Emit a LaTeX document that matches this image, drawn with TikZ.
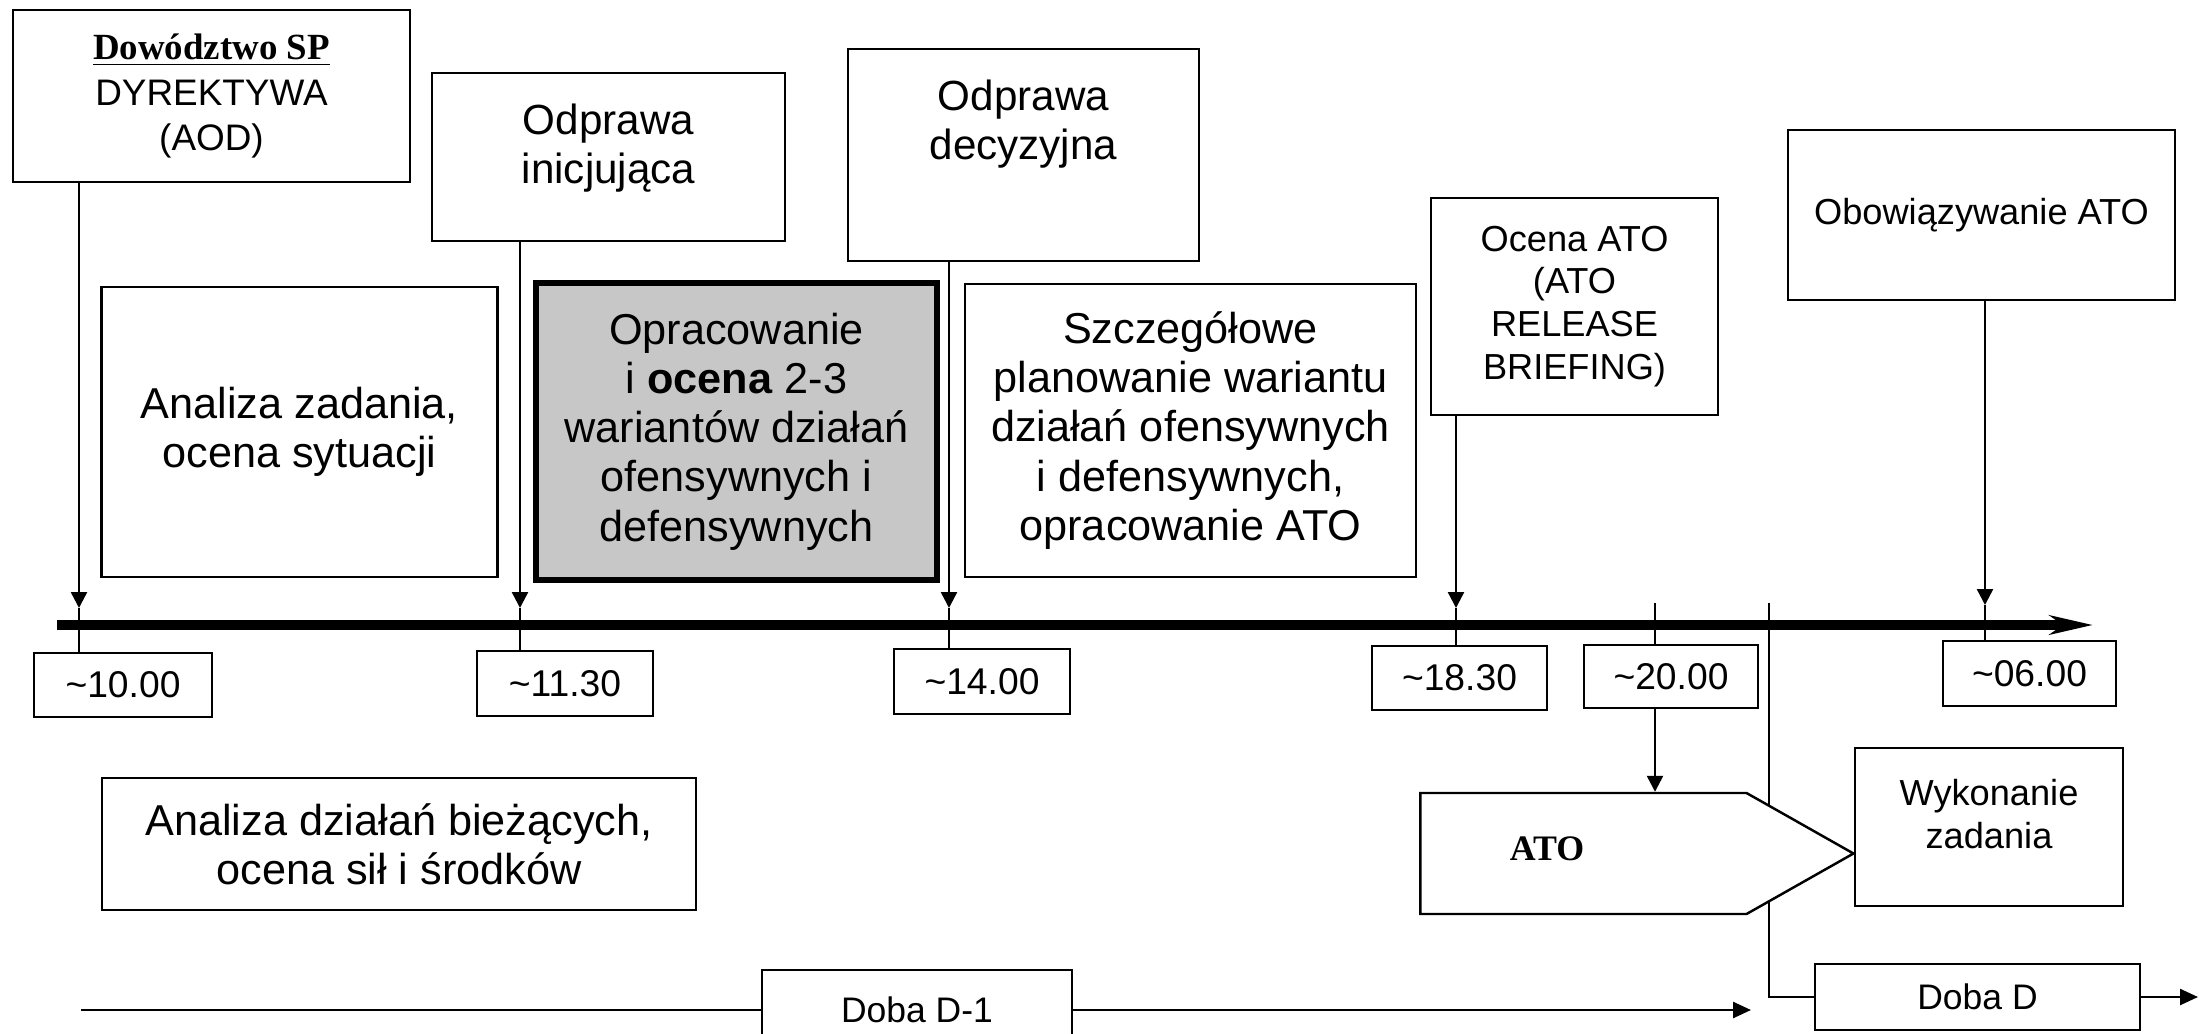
\documentclass[tikz,border=0pt]{standalone}
\usepackage{fontspec}
\setmainfont{Liberation Sans}
\newfontfamily\timesfont{Liberation Serif}
\usetikzlibrary{arrows.meta, shapes.symbols, calc}

\newcommand{\mainsize}{\fontsize{12.3}{14}\selectfont}
\newcommand{\titlesize}{\fontsize{12}{14}\selectfont}
\newcommand{\smallsize}{\fontsize{10.5}{13}\selectfont}
\newcommand{\notesize}{\fontsize{10.3}{12.2}\selectfont}
\newcommand{\hoursize}{\fontsize{10.6}{12}\selectfont}

\tikzset{
  %% Plain boxes
  planbox/.style={
    rectangle, draw=black, line width=0.7pt,
    align=center, inner sep=2pt, font=\mainsize},
  %% Highlighted box (variants)
  keybox/.style={
    planbox, fill=black!22, line width=1.6pt},
  %% Text hanging from the top of a box
  headtext/.style={
    anchor=north, yshift=-0.2cm, align=center, font=\titlesize},
  %% Hour boxes on the axis
  hourbox/.style={
    rectangle, draw=black, line width=0.7pt,
    inner sep=1pt, font=\hoursize},
  %% Day boxes at the bottom
  daybox/.style={
    rectangle, draw=black, line width=0.7pt,
    inner sep=1pt, font=\fontsize{10.1}{12}\selectfont},
  %% ATO pointer
  atoshape/.style={
    signal, signal to=east, signal pointer angle=59,
    draw=black, fill=white, line width=0.7pt, inner sep=0pt},
  %% Lines and arrows
  axis/.style={line width=2.6pt, -{Stealth[length=4.3mm, width=1.9mm, inset=1.3mm]}},
  thin/.style={line width=0.7pt},
  varrow/.style={line width=0.7pt, -{Triangle[length=1.6mm, width=1.6mm]}},
  barrow/.style={line width=0.7pt, -{Triangle[length=1.8mm, width=1.6mm]}},
}

\begin{document}
\begin{tikzpicture}
  \useasboundingbox (0,0) rectangle (21.99,-10.33);
  \clip (0,0) rectangle (21.99,-10.33);

  %% Upper row: briefings and decisions
  \node[planbox, font=\smallsize, minimum width=3.97cm, minimum height=1.72cm] (dow) at (2.115,-0.96)
    {{\timesfont\bfseries\underline{Dowództwo SP}}\\DYREKTYWA\\(AOD)};
  \node[planbox, minimum width=3.53cm, minimum height=1.68cm,
        label={[headtext]north:{Odprawa\\inicjująca}}] (odi) at (6.085,-1.57) {};
  \node[planbox, minimum width=3.51cm, minimum height=2.12cm,
        label={[headtext]north:{Odprawa\\decyzyjna}}] (odd) at (10.235,-1.55) {};
  \node[planbox, font=\notesize, minimum width=2.87cm, minimum height=2.17cm] (ocena) at (15.745,-3.065)
    {Ocena ATO\\(ATO\\RELEASE\\BRIEFING)};
  \node[planbox, font=\notesize, minimum width=3.87cm, minimum height=1.70cm] (obo) at (19.815,-2.15)
    {Obowiązywanie ATO};

  %% Planning stages
  \node[planbox, minimum width=3.96cm, minimum height=2.90cm] (anz) at (2.995,-4.32)
    {Analiza zadania,\\ocena sytuacji};
  \node[keybox, minimum width=4.01cm, minimum height=2.97cm] (opr) at (7.365,-4.315)
    {Opracowanie\\i \textbf{ocena} 2-3\\wariantów działań\\ofensywnych i\\defensywnych};
  \node[planbox, minimum width=4.51cm, minimum height=2.93cm] (szc) at (11.905,-4.305)
    {Szczegółowe\\planowanie wariantu\\działań ofensywnych\\i defensywnych,\\opracowanie ATO};

  %% Time axis
  \coordinate (axL) at (0.57,-6.25);
  \coordinate (axR) at (20.93,-6.25);
  \draw[axis] (axL) -- (axR);

  %% Hours
  \node[hourbox, minimum width=1.78cm, minimum height=0.64cm] (t10)   at (1.23,-6.85)   {\textasciitilde10.00};
  \node[hourbox, minimum width=1.76cm, minimum height=0.65cm] (t1130) at (5.65,-6.835)  {\textasciitilde11.30};
  \node[hourbox, minimum width=1.76cm, minimum height=0.65cm] (t14)   at (9.82,-6.815)  {\textasciitilde14.00};
  \node[hourbox, minimum width=1.75cm, minimum height=0.64cm] (t1830) at (14.595,-6.78) {\textasciitilde18.30};
  \node[hourbox, minimum width=1.74cm, minimum height=0.63cm] (t20)   at (16.71,-6.765) {\textasciitilde20.00};
  \node[hourbox, minimum width=1.73cm, minimum height=0.65cm] (t06)   at (20.295,-6.735){\textasciitilde06.00};

  %% Arrow tips just above the axis
  \coordinate (a10)   at (0.79,-6.08);
  \coordinate (a1130) at (5.20,-6.08);
  \coordinate (a14)   at (9.49,-6.08);
  \coordinate (a1830) at (14.56,-6.08);
  \coordinate (a06)   at (19.85,-6.05);
  \coordinate (s20)   at (16.55,-6.03);
  \coordinate (sday)  at (17.69,-6.03);

  \draw[varrow] (dow.south -| a10)     -- (a10);
  \draw[varrow] (odi.south -| a1130)   -- (a1130);
  \draw[varrow] (odd.south -| a14)     -- (a14);
  \draw[varrow] (ocena.south -| a1830) -- (a1830);
  \draw[varrow] (obo.south -| a06)     -- (a06);

  \draw[thin] (a10)   -- (t10.north -| a10);
  \draw[thin] (a1130) -- (t1130.north -| a1130);
  \draw[thin] (a14)   -- (t14.north -| a14);
  \draw[thin] (a1830) -- (t1830.north -| a1830);
  \draw[thin] (a06)   -- (t06.north -| a06);
  \draw[thin] (s20)   -- (t20.north -| s20);

  %% Days
  \node[daybox, minimum width=3.10cm, minimum height=0.80cm] (dobaA) at (9.17,-10.10)  {Doba D-1};
  \node[daybox, minimum width=3.25cm, minimum height=0.66cm] (dobaB) at (19.775,-9.97) {Doba D};

  \coordinate (dAstart) at (0.81,-10.10);
  \coordinate (dAend)   at (17.51,-10.10);
  \coordinate (dBend)   at (21.98,-9.97);

  \draw[thin] (dAstart) -- (dobaA.west);
  \draw[barrow] (dobaA.east) -- (dAend);
  \draw[thin] (sday) |- (dobaB.west);
  \draw[barrow] (dobaB.east) -- (dBend);

  %% Lower row
  \node[planbox, minimum width=5.94cm, minimum height=1.32cm] (anb) at (3.99,-8.44)
    {Analiza działań bieżących,\\ocena sił i środków};
  \node[atoshape, minimum width=4.33cm, minimum height=1.21cm,
        label={[font=\timesfont\bfseries\fontsize{10.2}{12}\selectfont, xshift=-0.365cm, yshift=0.05cm]center:ATO}]
        (ato) at (15.835,-8.535) {};
  \node[planbox, minimum width=2.68cm, minimum height=1.58cm,
        label={[headtext, font=\notesize]north:{Wykonanie\\zadania}}] (wyk) at (19.89,-8.27) {};

  \draw[varrow] (t20.south -| s20) -- (ato.north -| s20);

\end{tikzpicture}
\end{document}
